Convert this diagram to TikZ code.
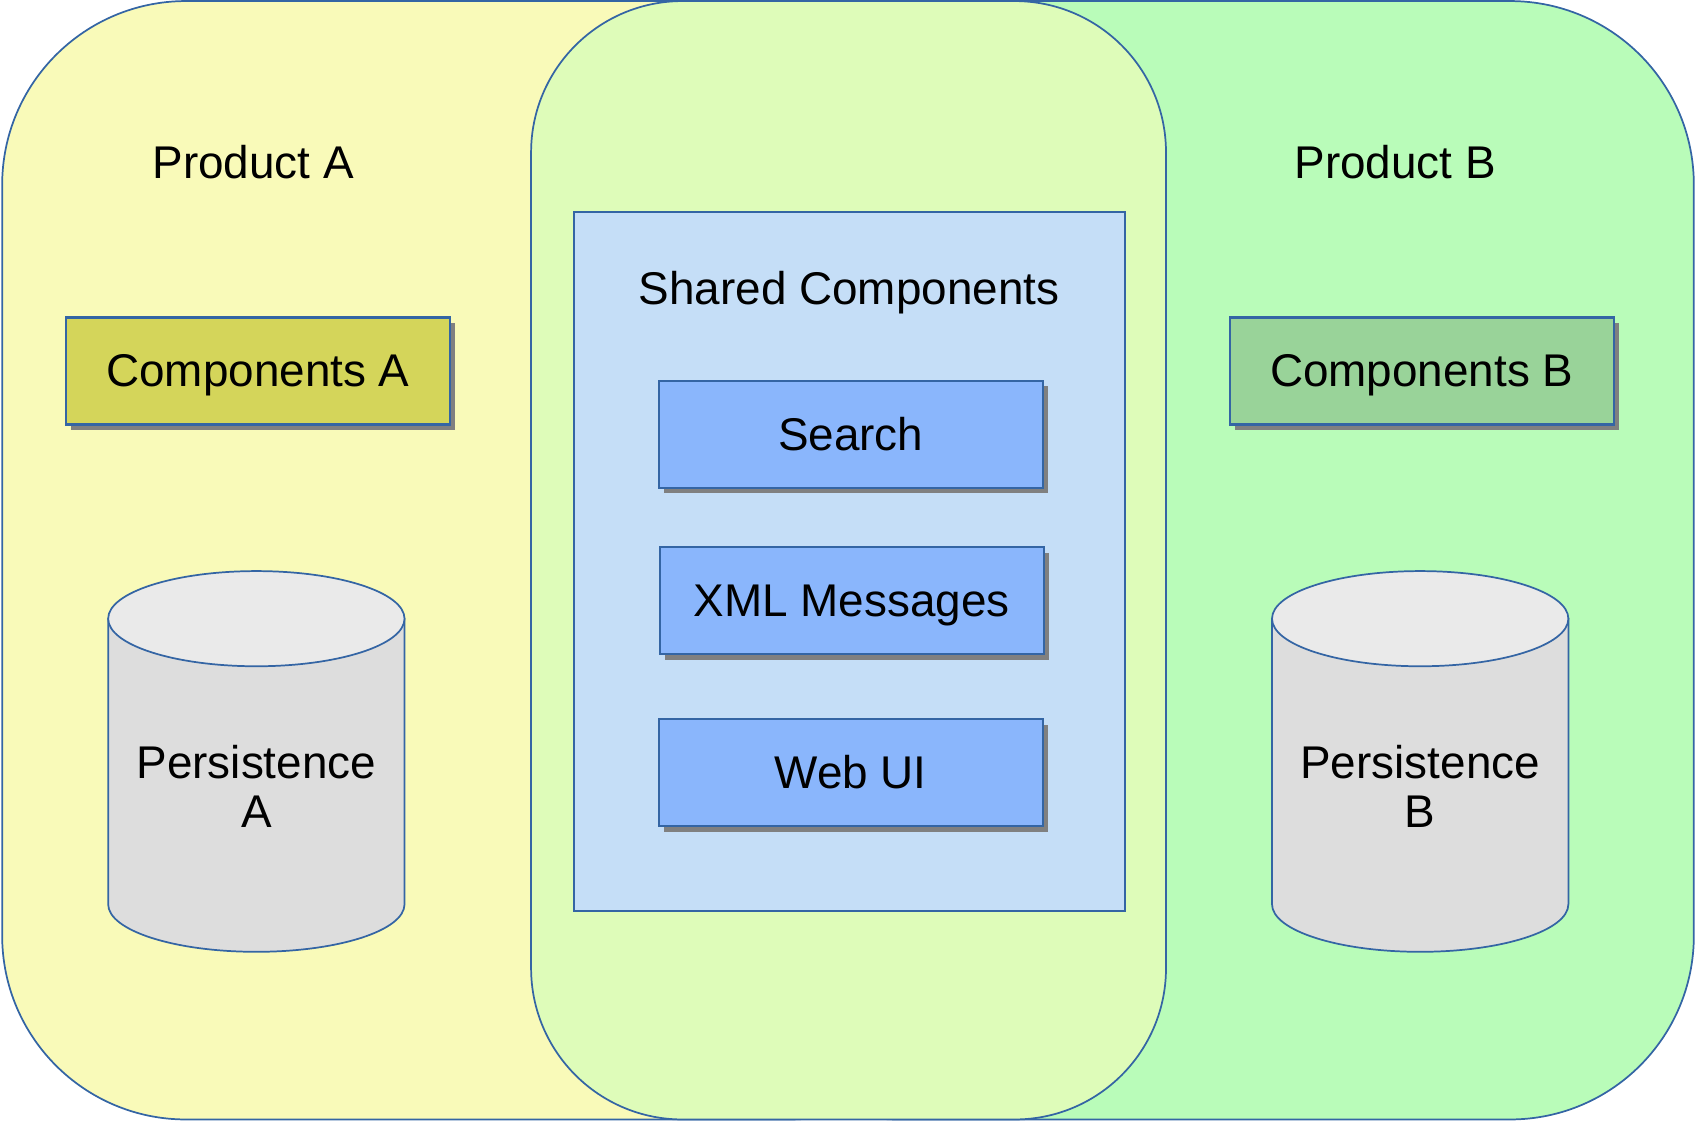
\documentclass[tikz,border=0pt]{standalone}
\usepackage{fontspec}
\setmainfont{Liberation Sans}
\usetikzlibrary{shadows}
\definecolor{bordc}{HTML}{3465A4}
\definecolor{prodA}{HTML}{F9FAB9}
\definecolor{prodB}{HTML}{B9FCB9}
\definecolor{midc}{HTML}{DEFCB9}
\definecolor{sharedc}{HTML}{C5DEF7}
\definecolor{bluebox}{HTML}{8AB6FC}
\definecolor{compA}{HTML}{D4D55A}
\definecolor{compB}{HTML}{99D399}
\definecolor{cylbody}{HTML}{DDDDDD}
\definecolor{cyltop}{HTML}{EAEAEA}
\tikzset{
  lbl/.style={font=\fontsize{21.2}{23}\selectfont, inner sep=0pt, align=center},
  onelbl/.style={lbl, text height=19.2pt, text depth=4.5pt},
  compbox/.style={draw=bordc, line width=1pt, minimum width=177.5pt, minimum height=49.5pt,
    inner sep=0pt, font=\fontsize{21.2}{23}\selectfont, text height=19.2pt, text depth=4.5pt,
    drop shadow={shadow xshift=2.5pt, shadow yshift=-2.5pt, fill=black!50, opacity=1}},
  region/.style={draw=bordc, line width=0.8pt},
  cyl/.style={draw=bordc, line width=0.8pt}
}
\begin{document}
\begin{tikzpicture}[x=0.5pt,y=0.5pt]
\useasboundingbox (0,0) rectangle (1568,1036);
% product regions
\path[region, fill=prodA, rounded corners=85pt] (2,1) rectangle (900,1035);
\path[region, fill=prodB, rounded corners=85pt] (660,1) rectangle (1566,1035);
\path[region, fill=midc, rounded corners=70pt] (491,1) rectangle (1078,1035);
\node[onelbl] (prodAlbl) at (234,886) {Product A};
\node[onelbl] (prodBlbl) at (1290,886) {Product B};
% shared components
\node[draw=bordc, line width=0.8pt, fill=sharedc, minimum width=254.5pt, minimum height=323pt, inner sep=0pt] (shared) at (785.5,517) {};
\node[onelbl] (sharedlbl) at (785,769) {Shared Components};
\node[compbox, fill=bluebox] (search) at (786.5,634.5) {Search};
\node[compbox, fill=bluebox] (xml) at (787.5,480.5) {XML Messages};
\node[compbox, fill=bluebox] (webui) at (786.5,321.5) {Web UI};
% components
\node[compbox, fill=compA] (compA) at (238.5,693) {Components A};
\node[compbox, fill=compB] (compB) at (1314.5,693) {Components B};
% cylinders
\foreach \cx/\nm/\ltr in {237/persA/A, 1313/persB/B}{
  \path[cyl, fill=cylbody] (\cx-137,464) -- (\cx-137,200) arc[start angle=180, end angle=360, x radius=137, y radius=44] -- (\cx+137,464) -- cycle;
  \path[cyl, fill=cyltop] (\cx,464) ellipse[x radius=137, y radius=44];
  \node[lbl] (\nm) at (\cx,309) {Persistence\\\ltr};
}
\end{tikzpicture}
\end{document}
